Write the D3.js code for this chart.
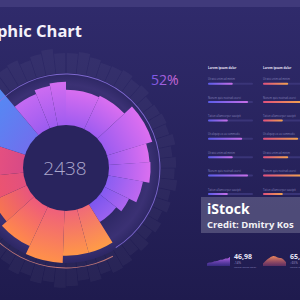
<!DOCTYPE html>
<html>
<head>
<meta charset="utf-8">
<script src="https://cdn.jsdelivr.net/npm/d3@7"></script>
<style>
html, body { margin: 0; padding: 0; background: #29245f; }
svg { display: block; }
</style>
</head>
<body>
<script>
// DATA
var barWidths = [24, 32, 18, 11, 11, 25, 22, 26, 13, 14, 16, 12, 20, 17, 17, 23, 23, 18, 18];
var barValues = [66, 86, 46, 51, 54, 44, 46, 59, 51, 52, 44, 34, 26, 56, 56, 65, 54, 46, 51];
var gearValues = [90, 92, 88, 85, 86, 88, 84, 86, 80, 82, 84, 82, 86, 80, 84, 82, 86, 80, 84, 78,
                  84, 80, 86, 82, 88, 90, 86, 92, 88, 94, 96, 90, 94, 88, 92, 86, 90, 84, 88, 82,
                  86, 80, 84, 88, 82, 84, 88, 82, 86, 90, 88, 84, 90, 86, 92, 94, 88, 92, 96, 90];
var centerValue = "2438";
var percentLabel = "52%";
var titleText = "Infographic Chart";
var listHeaders = ["Lorem ipsum dolor", "Lorem ipsum dolor"];
var listLabels = ["Ut wisi enim ad minim", "Nonem quis nostrud exerci", "Tation ullamcorper suscipit",
                  "Ut aliquip ex ea commodo", "Ut wisi enim ad minim", "Nonem quis nostrud exerci",
                  "Tation ullamcorper suscipit"];
var listValuesA = [55, 89, 44, 76, 55, 89, 44];
var listValuesB = [56, 86, 44, 78, 56, 86, 44];
var sparkA = [2, 3, 2.5, 4, 3.5, 5, 4.5, 6, 5.5, 7];
var sparkB = [2, 4, 5.5, 7, 8, 7.5, 6, 6.5, 5, 3];
var sparkNumbers = ["46,98", "65,24"];
var sparkChanges = ["-14%", "+65%"];

var width = 300, height = 300;
var deg = Math.PI / 180;
var cx = 66, cy = 168;

var svg = d3.select("body").append("svg")
   .attr("width", width).attr("height", height)
   .attr("viewBox", "0,0," + width + "," + height);
var defs = svg.append("defs");

//BACKGROUND
var bg = defs.append("linearGradient").attr("id", "bg").attr("x1", 0).attr("y1", 0).attr("x2", 0).attr("y2", 1);
bg.append("stop").attr("offset", "0").attr("stop-color", "#302b6c");
bg.append("stop").attr("offset", "1").attr("stop-color", "#1f1b4e");
svg.append("rect").attr("width", width).attr("height", height).attr("fill", "url(#bg)");
svg.append("rect").attr("width", width).attr("height", 7).attr("fill", "#403a7b");

svg.append("text").text(titleText)
   .attr("x", 82).attr("y", 37)
   .attr("text-anchor", "end")
   .attr("font-family", "Open Sans")
   .attr("font-weight", "700")
   .attr("font-size", "16.5px")
   .attr("fill", "#f4f2fb");

//RADIAL CHART
var r = d3.scaleLinear().domain([0, 100]).range([43, 123]);
var chart = svg.append("g").attr("transform", "translate(" + cx + "," + cy + ")");

// gear bars behind
var gearBand = d3.scaleBand().domain(d3.range(gearValues.length)).range([0, 2 * Math.PI]).padding(0.06);
var gearArc = d3.arc()
   .innerRadius(60)
   .outerRadius(function(d){ return r(d); })
   .startAngle(function(d, i){ return gearBand(i); })
   .endAngle(function(d, i){ return gearBand(i) + gearBand.bandwidth(); });
chart.selectAll("path.gear").data(gearValues).enter().append("path")
   .attr("class", "gear")
   .attr("d", gearArc)
   .attr("fill", "#ffffff")
   .attr("fill-opacity", 0.04);

// dark disk with glow inside the ring
var glow = defs.append("radialGradient").attr("id", "glow")
   .attr("gradientUnits", "userSpaceOnUse").attr("cx", 0).attr("cy", 0).attr("r", 95);
glow.append("stop").attr("offset", "0.6").attr("stop-color", "#2a2560");
glow.append("stop").attr("offset", "0.88").attr("stop-color", "#3b3174");
glow.append("stop").attr("offset", "1").attr("stop-color", "#2d2764");
chart.append("circle").attr("r", 95).attr("fill", "url(#glow)");

// colours by mid angle
var colourStops = [-84, -56, -31, 0, 90, 108, 138, 156, 216, 237, 255];
var outerColour = d3.scaleLinear().domain(colourStops)
   .range(["#f2567a", "#4d90f5", "#c46af2", "#d86ef0", "#e070f0", "#c068f0", "#9a62f0", "#ff9c46", "#ff8a4a", "#f7764f", "#f0566a"]);
var innerColour = d3.scaleLinear().domain(colourStops)
   .range(["#d84a86", "#6f70ee", "#9c5cf0", "#a05cf0", "#9a5cf0", "#8a5ef2", "#7d56ee", "#f06a78", "#ee5a7c", "#e8557e", "#e2507e"]);

var pie = d3.pie().sort(null).value(function(d){ return d.w; })
   .startAngle(-96 * deg).endAngle(264 * deg);
var bars = pie(barWidths.map(function(w, i){ return {w: w, v: barValues[i]}; }));
var barArc = d3.arc().innerRadius(42).outerRadius(function(d){ return r(d.data.v); });

bars.forEach(function(d, i){
   var mid = (d.startAngle + d.endAngle) / 2;
   var midDeg = mid / deg;
   var g = defs.append("linearGradient").attr("id", "bar" + i)
      .attr("gradientUnits", "userSpaceOnUse")
      .attr("x1", 43 * Math.sin(mid)).attr("y1", -43 * Math.cos(mid))
      .attr("x2", r(d.data.v) * Math.sin(mid)).attr("y2", -r(d.data.v) * Math.cos(mid));
   g.append("stop").attr("offset", "0").attr("stop-color", innerColour(midDeg));
   g.append("stop").attr("offset", "1").attr("stop-color", outerColour(midDeg));
});
chart.selectAll("path.bar").data(bars).enter().append("path")
   .attr("class", "bar")
   .attr("d", barArc)
   .attr("fill", function(d, i){ return "url(#bar" + i + ")"; });

// thin rings
chart.append("path")
   .attr("d", d3.arc().innerRadius(93.5).outerRadius(94.4).startAngle(-48 * deg).endAngle(148 * deg)())
   .attr("fill", "#8c74e0").attr("opacity", 0.85);
chart.append("path")
   .attr("d", d3.arc().innerRadius(99.5).outerRadius(100.4).startAngle(152 * deg).endAngle(240 * deg)())
   .attr("fill", "#d8847c").attr("opacity", 0.85);

// centre
chart.append("circle").attr("r", 43).attr("fill", "#29245e");
chart.append("text").text(centerValue)
   .attr("x", -1).attr("y", 7)
   .attr("text-anchor", "middle")
   .attr("font-family", "Open Sans")
   .attr("font-weight", "300")
   .attr("font-size", "19px")
   .attr("fill", "#aba7cc");

var pg = defs.append("linearGradient").attr("id", "pct");
pg.append("stop").attr("offset", "0").attr("stop-color", "#7658e6");
pg.append("stop").attr("offset", "1").attr("stop-color", "#d46ad6");
svg.append("text").text(percentLabel)
   .attr("x", 151).attr("y", 85)
   .attr("font-family", "Open Sans")
   .attr("font-weight", "400")
   .attr("font-size", "14px")
   .attr("fill", "url(#pct)");

//RIGHT LIST
var ga = defs.append("linearGradient").attr("id", "fillA");
ga.append("stop").attr("offset", "0").attr("stop-color", "#5a5ce8");
ga.append("stop").attr("offset", "1").attr("stop-color", "#c86ee8");
var gb = defs.append("linearGradient").attr("id", "fillB");
gb.append("stop").attr("offset", "0").attr("stop-color", "#e0507c");
gb.append("stop").attr("offset", "1").attr("stop-color", "#f2a24e");

var rowY = d3.scalePoint().domain(d3.range(listLabels.length)).range([83.7, 194]);
var columns = [{x: 208, values: listValuesA, fill: "url(#fillA)"},
               {x: 263, values: listValuesB, fill: "url(#fillB)"}];
columns.forEach(function(col, c){
   var x = d3.scaleLinear().domain([0, 100]).range([0, 45]);
   var colG = svg.append("g").attr("transform", "translate(" + col.x + ",0)");
   colG.append("text").text(listHeaders[c])
      .attr("x", 0).attr("y", 68.5)
      .attr("font-family", "Open Sans").attr("font-weight", "700")
      .attr("font-size", "3px").attr("fill", "#e6e4f4");
   colG.selectAll("text.lbl").data(listLabels).enter().append("text")
      .attr("class", "lbl").text(function(d){ return d; })
      .attr("x", 0).attr("y", function(d, i){ return rowY(i) - 3.5; })
      .attr("font-family", "Open Sans").attr("font-size", "2.6px").attr("fill", "#8884bb");
   colG.selectAll("rect.track").data(col.values).enter().append("rect")
      .attr("class", "track")
      .attr("x", 0).attr("y", function(d, i){ return rowY(i) - 1; })
      .attr("width", x(100)).attr("height", 2).attr("rx", 1)
      .attr("fill", "#3a3578");
   colG.selectAll("rect.val").data(col.values).enter().append("rect")
      .attr("class", "val")
      .attr("x", 0).attr("y", function(d, i){ return rowY(i) - 1; })
      .attr("width", function(d){ return x(d); }).attr("height", 2).attr("rx", 1)
      .attr("fill", col.fill);
});

//SPARKLINES
var sparks = [{x0: 207, data: sparkA, fill: "url(#sparkA)"}, {x0: 263, data: sparkB, fill: "url(#sparkB)"}];
var sa = defs.append("linearGradient").attr("id", "sparkA").attr("x1", 0).attr("y1", 1).attr("x2", 0).attr("y2", 0);
sa.append("stop").attr("offset", "0").attr("stop-color", "#5b3fc8").attr("stop-opacity", 0.4);
sa.append("stop").attr("offset", "1").attr("stop-color", "#c268ea");
var sb = defs.append("linearGradient").attr("id", "sparkB").attr("x1", 0).attr("y1", 1).attr("x2", 0).attr("y2", 0);
sb.append("stop").attr("offset", "0").attr("stop-color", "#b84a78").attr("stop-opacity", 0.4);
sb.append("stop").attr("offset", "1").attr("stop-color", "#f08a5a");
sparks.forEach(function(s, k){
   var sx = d3.scaleLinear().domain([0, s.data.length - 1]).range([s.x0, s.x0 + 23]);
   var sy = d3.scaleLinear().domain([0, 10]).range([266, 253]);
   var area = d3.area().x(function(d, i){ return sx(i); }).y0(266).y1(function(d){ return sy(d); })
      .curve(d3.curveBasis);
   svg.append("path").attr("d", area(s.data)).attr("fill", s.fill);
   svg.append("text").text(sparkNumbers[k])
      .attr("x", s.x0 + 27).attr("y", 258.5)
      .attr("font-family", "Open Sans").attr("font-weight", "700")
      .attr("font-size", "7px").attr("fill", "#e8e6f6");
   svg.append("text").text(sparkChanges[k])
      .attr("x", s.x0 + 27).attr("y", 264)
      .attr("font-family", "Open Sans").attr("font-size", "3px").attr("fill", "#a29ed0");
   svg.append("text").text("Lorem ipsum dolor")
      .attr("x", s.x0 + 27).attr("y", 268)
      .attr("font-family", "Open Sans").attr("font-size", "2.5px").attr("fill", "#8884bb");
});

//WATERMARK
svg.append("rect").attr("x", 201).attr("y", 197).attr("width", 99).attr("height", 36)
   .attr("fill", "#8a88a8").attr("fill-opacity", 0.42);
svg.append("text").text("iStock")
   .attr("x", 207).attr("y", 214)
   .attr("font-family", "Open Sans").attr("font-weight", "700")
   .attr("font-size", "14px").attr("fill", "#ffffff");
svg.append("text").text("Credit: Dmitry Kos")
   .attr("x", 207).attr("y", 228)
   .attr("font-family", "Open Sans").attr("font-weight", "700")
   .attr("font-size", "9.5px").attr("fill", "#f2f2f6");
</script>
</body>
</html>
